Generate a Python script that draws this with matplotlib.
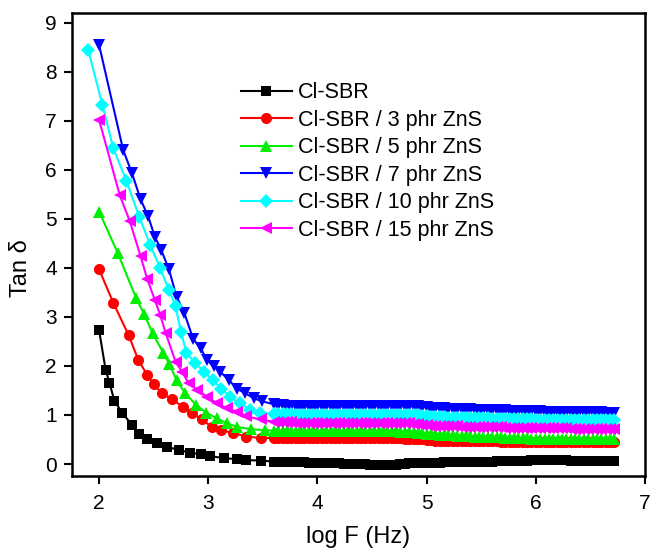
import matplotlib
matplotlib.use("Agg")
import matplotlib.pyplot as plt

plt.rcParams["font.family"] = ["Liberation Sans", "DejaVu Sans"]

labels = ["Cl-SBR", "Cl-SBR / 3 phr ZnS", "Cl-SBR / 5 phr ZnS",
          "Cl-SBR / 7 phr ZnS", "Cl-SBR / 10 phr ZnS", "Cl-SBR / 15 phr ZnS"]

# high frequency part, same sweep for every sample
x_tail = [3.60, 3.64, 3.68, 3.72, 3.76, 3.80, 3.84, 3.88, 3.92, 3.96,
          4.00, 4.04, 4.08, 4.12, 4.16, 4.20, 4.24, 4.28, 4.32, 4.36,
          4.40, 4.44, 4.48, 4.52, 4.56, 4.60, 4.64, 4.68, 4.72, 4.76,
          4.80, 4.84, 4.88, 4.92, 4.96, 5.00, 5.04, 5.08, 5.12, 5.16,
          5.20, 5.24, 5.28, 5.32, 5.36, 5.40, 5.44, 5.48, 5.52, 5.56,
          5.60, 5.64, 5.68, 5.72, 5.76, 5.80, 5.84, 5.88, 5.92, 5.96,
          6.00, 6.04, 6.08, 6.12, 6.16, 6.20, 6.24, 6.28, 6.32, 6.36,
          6.40, 6.44, 6.48, 6.52, 6.56, 6.60, 6.64, 6.68, 6.72]

# low frequency part, read per curve
x_black = [2.00, 2.06, 2.095, 2.14, 2.21, 2.30, 2.37, 2.44, 2.53, 2.62,
           2.73, 2.83, 2.93, 3.02, 3.14, 3.26, 3.35, 3.48]
y_black = [2.73, 1.92, 1.66, 1.29, 1.05, 0.80, 0.62, 0.50, 0.42, 0.35,
           0.29, 0.23, 0.20, 0.16, 0.12, 0.10, 0.08, 0.07]
t_black = [.05, .05, .05, .05, .04, .04, .04, .04, .03, .03,
           .03, .03, .02, .02, .02, .02, .01, .01, .01, .01,
           .00, .00, -.01, -.01, -.01, -.01, -.01, -.01, -.01, .00,
           .01, .02, .02, .02, .02, .03, .03, .03, .03, .04,
           .04, .04, .04, .04, .04, .05, .05, .05, .05, .05,
           .05, .06, .06, .06, .06, .06, .06, .07, .07, .08,
           .08, .08, .08, .08, .08, .08, .08, .08, .07, .07,
           .06, .06, .06, .06, .06, .06, .06, .06, .06]

x_red = [2.00, 2.13, 2.27, 2.36, 2.44, 2.50, 2.575, 2.67, 2.77, 2.85,
         2.94, 3.03, 3.12, 3.23, 3.35, 3.48]
y_red = [3.97, 3.29, 2.63, 2.12, 1.82, 1.63, 1.44, 1.32, 1.16, 1.05,
         0.91, 0.76, 0.69, 0.63, 0.56, 0.53]
t_red = [.53, .53, .53, .53, .53, .53, .53, .53, .53, .53,
         .53, .53, .53, .53, .53, .53, .53, .53, .53, .53,
         .53, .53, .53, .53, .53, .53, .53, .53, .53, .53,
         .52, .52, .52, .51, .51, .49, .48, .47, .47, .46,
         .46, .46, .46, .46, .46, .46, .46, .46, .46, .46,
         .46, .46, .45, .45, .45, .45, .45, .45, .45, .45,
         .45, .45, .45, .45, .45, .45, .45, .45, .44, .44,
         .44, .44, .44, .44, .44, .44, .44, .44, .44]

x_green = [2.00, 2.17, 2.34, 2.41, 2.49, 2.59, 2.64, 2.71, 2.79, 2.89,
           2.98, 3.08, 3.17, 3.26, 3.39, 3.52]
y_green = [5.15, 4.31, 3.38, 3.07, 2.67, 2.26, 2.05, 1.71, 1.44, 1.20,
           1.05, 0.93, 0.83, 0.76, 0.71, 0.69]
t_green = [.68, .68, .68, .68, .68, .68, .68, .68, .68, .68,
           .68, .68, .68, .68, .68, .68, .68, .68, .68, .68,
           .68, .68, .68, .67, .67, .67, .67, .67, .67, .66,
           .66, .65, .65, .64, .63, .62, .61, .61, .60, .60,
           .59, .59, .58, .58, .57, .57, .56, .56, .56, .55,
           .55, .55, .55, .54, .54, .53, .53, .53, .53, .52,
           .52, .52, .52, .52, .52, .51, .51, .51, .51, .51,
           .51, .50, .50, .50, .50, .50, .50, .50, .50]

x_blue = [2.00, 2.22, 2.30, 2.38, 2.45, 2.51, 2.57, 2.64, 2.71, 2.78,
          2.86, 2.93, 2.99, 3.05, 3.11, 3.19, 3.26, 3.34, 3.42, 3.49]
y_blue = [8.55, 6.41, 5.94, 5.40, 5.05, 4.64, 4.36, 3.97, 3.41, 3.09,
          2.56, 2.36, 2.12, 1.99, 1.88, 1.71, 1.54, 1.44, 1.34, 1.28]
t_blue = [1.22, 1.21, 1.20, 1.19, 1.19, 1.18, 1.18, 1.18, 1.18, 1.18,
          1.18, 1.18, 1.18, 1.18, 1.18, 1.18, 1.18, 1.18, 1.18, 1.18,
          1.19, 1.19, 1.19, 1.19, 1.19, 1.19, 1.19, 1.19, 1.19, 1.19,
          1.19, 1.19, 1.18, 1.18, 1.17, 1.16, 1.15, 1.15, 1.14, 1.14,
          1.13, 1.13, 1.12, 1.12, 1.12, 1.12, 1.11, 1.11, 1.11, 1.11,
          1.10, 1.10, 1.10, 1.10, 1.09, 1.09, 1.08, 1.08, 1.08, 1.08,
          1.08, 1.08, 1.07, 1.07, 1.07, 1.07, 1.07, 1.07, 1.06, 1.06,
          1.06, 1.06, 1.06, 1.06, 1.06, 1.06, 1.05, 1.05, 1.05]

x_cyan = [1.90, 2.03, 2.13, 2.25, 2.37, 2.47, 2.56, 2.64, 2.70, 2.75,
          2.80, 2.88, 2.96, 3.04, 3.12, 3.20, 3.29, 3.385, 3.47]
y_cyan = [8.45, 7.33, 6.44, 5.78, 5.03, 4.46, 3.99, 3.55, 3.22, 2.70,
          2.26, 2.07, 1.88, 1.71, 1.54, 1.37, 1.24, 1.10, 1.05]
t_cyan = [1.02, 1.02, 1.01, 1.01, 1.01, 1.00, 1.00, 1.00, 1.00, 1.00,
          1.00, 1.00, 1.00, 1.00, 1.00, 1.00, 1.00, 1.00, 1.00, 1.00,
          1.00, 1.00, 1.00, 1.00, 1.00, 1.00, 1.00, 1.00, 1.00, 1.00,
          1.00, 1.00, .99, .99, .98, .97, .96, .96, .95, .95,
          .94, .94, .94, .94, .93, .93, .93, .93, .93, .93,
          .92, .92, .92, .92, .91, .91, .91, .91, .91, .91,
          .90, .90, .90, .90, .90, .90, .90, .90, .90, .90,
          .90, .90, .90, .90, .90, .90, .90, .90, .90]

x_mag = [2.00, 2.19, 2.28, 2.38, 2.44, 2.51, 2.56, 2.61, 2.70, 2.76,
         2.82, 2.90, 2.99, 3.08, 3.17, 3.26, 3.35, 3.48]
y_mag = [7.02, 5.48, 4.96, 4.24, 3.78, 3.35, 3.04, 2.67, 2.09, 1.88,
         1.65, 1.51, 1.37, 1.24, 1.14, 1.07, 0.97, 0.91]
t_mag = [.86, .86, .85, .85, .85, .84, .84, .84, .84, .84,
         .84, .84, .84, .84, .84, .84, .84, .84, .84, .84,
         .84, .84, .84, .84, .84, .84, .84, .84, .84, .84,
         .83, .83, .82, .81, .80, .79, .78, .78, .77, .77,
         .77, .77, .77, .76, .76, .76, .76, .76, .76, .76,
         .76, .75, .75, .74, .74, .73, .73, .73, .73, .73,
         .73, .73, .73, .73, .73, .73, .73, .73, .72, .72,
         .72, .72, .72, .72, .72, .72, .72, .72, .72]

series = [
    (x_black, y_black, t_black, "black", "s", 7),
    (x_red, y_red, t_red, "#ff0000", "o", 8),
    (x_green, y_green, t_green, "#00ee00", "^", 9),
    (x_blue, y_blue, t_blue, "#0000ff", "v", 9),
    (x_cyan, y_cyan, t_cyan, "#00ffff", "D", 7.5),
    (x_mag, y_mag, t_mag, "#ff00ff", "<", 9),
]

fig = plt.figure(figsize=(6.51, 5.53), dpi=100)
ax = fig.add_axes([0.1106, 0.1392, 0.8802, 0.8373])

for (xs, ys, ts, col, mk, ms), lab in zip(series, labels):
    ax.plot(xs + x_tail, ys + ts, color=col, marker=mk, markersize=ms,
            linewidth=1.5, markeredgewidth=0, label=lab)

ax.set_xlim(1.752, 7.0)
ax.set_ylim(-0.245, 9.2)
ax.set_xticks([2, 3, 4, 5, 6, 7])
ax.set_yticks(range(10))
ax.tick_params(direction="out", length=6, width=1.5, labelsize=15)
ax.tick_params(axis="x", pad=7)
ax.tick_params(axis="y", pad=5)
for sp in ax.spines.values():
    sp.set_linewidth(1.8)

ax.set_xlabel("log F (Hz)", fontsize=17, labelpad=9)
ax.set_ylabel("Tan δ", fontsize=17)
ax.yaxis.set_label_coords(-0.07, 0.45)

ax.legend(loc="upper left", bbox_to_anchor=(0.295, 0.85), frameon=False,
          fontsize=15.5, handlelength=2.35, handletextpad=0.3,
          labelspacing=0.3, borderpad=0, borderaxespad=0)

fig.savefig("out.png", dpi=100)
plt.close(fig)
